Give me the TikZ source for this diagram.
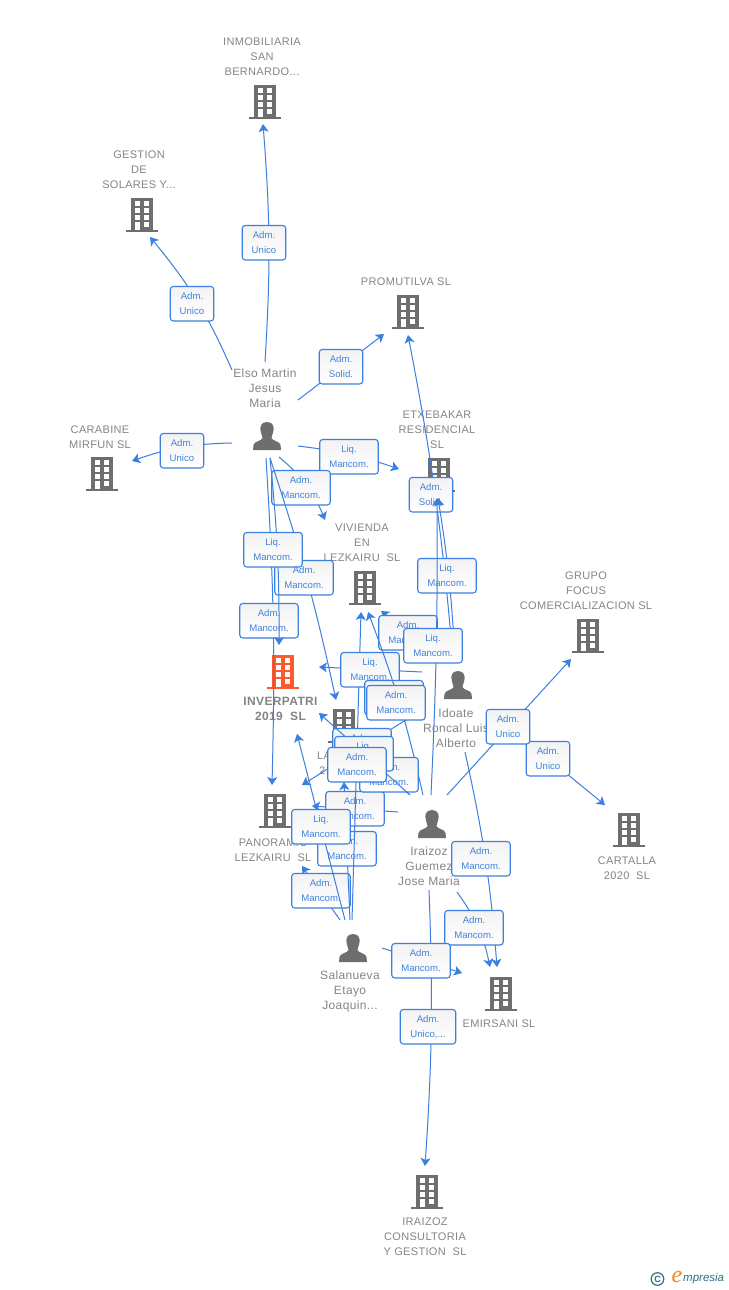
\documentclass[tikz,border=0pt]{standalone}
\usepackage{fontspec}
\setmainfont[LetterSpace=3]{Liberation Sans}
\newfontfamily\lblfont{Liberation Sans}
\newfontfamily\logofont{Liberation Serif}
\usetikzlibrary{arrows.meta}
\definecolor{linkc}{HTML}{3B7FE0}
\definecolor{lbltext}{HTML}{3F83DC}
\definecolor{iconc}{HTML}{6E6E6E}
\definecolor{mainc}{HTML}{FF5A2B}
\definecolor{namec}{HTML}{858585}
\definecolor{logot}{HTML}{2F6F86}
\definecolor{logoo}{HTML}{F08A1D}
\tikzset{
  conn/.style={draw=linkc,line width=1pt,-{Stealth[length=8pt,width=10pt,inset=2pt]}},
  connplain/.style={draw=linkc,line width=1pt},
  lbox/.style={draw=linkc,line width=1.1pt,rounded corners=3pt,top color=black!5,bottom color=white,
    text=lbltext,font=\lblfont\fontsize{9.6}{15}\selectfont,align=center,inner sep=0pt,
    minimum height=34.5pt,yshift=-0.7pt},
  lnarrow/.style={lbox,minimum width=43.5pt},
  lwide/.style={lbox,minimum width=58.5pt},
  lmid/.style={lbox,minimum width=55.5pt},
  ename/.style={text=namec,font=\fontsize{11}{15}\selectfont,align=center,inner sep=0pt,yshift=-0.8pt},
  pname/.style={text=namec,font=\fontsize{12}{15}\selectfont,align=center,inner sep=0pt,yshift=-0.5pt},
  mname/.style={text=namec,font=\bfseries\fontsize{12}{15}\selectfont,align=center,inner sep=0pt,yshift=-0.5pt},
  iconbox/.style={inner sep=0pt,minimum width=30pt,minimum height=34pt},
}
% building icon: name, position, colour
\newcommand{\bld}[3]{%
  \node[iconbox] (#1) at (#2) {};
  \begin{scope}[shift={(#2)}]
    \fill[#3] (-10.7,-17) rectangle (10.7,15);
    \fill[#3] (-16,15) rectangle (16,17);
    \foreach \yy in {-13.7,-7,-0.3}{
      \fill[white] (-7.3,\yy) rectangle (-1.7,\yy+5);
      \fill[white] (1.7,\yy) rectangle (7.3,\yy+5);
    }
    \fill[white] (-7.3,7) rectangle (-1.7,15);
    \fill[white] (1.7,7) rectangle (7.3,11.5);
  \end{scope}}
% person icon: name, position
\newcommand{\psn}[2]{%
  \node[iconbox,minimum height=28pt] (#1) at (#2) {};
  \begin{scope}[shift={(#2)}]
    \fill[iconc] (0,-14) .. controls (-6,-14) and (-7,-9) .. (-6.5,-6)
      .. controls (-6,-2) and (-4.5,0) .. (-4.5,2)
      .. controls (-5,5) and (-13,5) .. (-13.5,9) -- (-14,14) -- (14,14) -- (13.5,9)
      .. controls (13,5) and (5,5) .. (4.5,2)
      .. controls (4.5,0) and (6,-2) .. (6.5,-6)
      .. controls (7,-9) and (6,-14) .. (0,-14) -- cycle;
  \end{scope}}
% connector: id, start, tip, curve options
\newcommand{\lnk}[4]{%
  \coordinate (#1s) at (#2);
  \coordinate (#1t) at (#3);
  \draw[conn] (#1s) to[#4] (#1t);}
\begin{document}
\begin{tikzpicture}[x=1pt,y=-1pt]
\useasboundingbox (0,0) rectangle (728,1290);
\fill[white] (0,0) rectangle (728,1290);

% entity icons
\bld{inmob}{265,102}{iconc}
\bld{gestion}{142,215}{iconc}
\bld{promut}{408,312}{iconc}
\bld{carab}{102,474}{iconc}
\bld{etxe}{439,475}{iconc}
\bld{vivi}{365,588}{iconc}
\bld{inver}{283,672}{mainc}
\bld{lar}{344,726}{iconc}
\bld{panor}{275,811}{iconc}
\bld{grupo}{588,636}{iconc}
\bld{carta}{629,830}{iconc}
\bld{emir}{501,994}{iconc}
\bld{consul}{427,1192}{iconc}
\psn{elso}{267,436}
\psn{idoate}{458,685}
\psn{iraizoz}{432,824}
\psn{salan}{353,948}

% entity names
\node[ename] (ninmob) at (262,56) {INMOBILIARIA\\SAN\\BERNARDO...};
\node[ename] (ngest) at (139,169) {GESTION\\DE\\SOLARES Y...};
\node[ename] (nprom) at (406,281) {PROMUTILVA SL};
\node[pname] (nelso) at (265,388) {Elso Martin\\Jesus\\Maria};
\node[ename] (ncarab) at (100,436) {CARABINE\\MIRFUN SL};
\node[ename] (netxe) at (437,429) {ETXEBAKAR\\RESIDENCIAL\\SL};
\node[ename] (nvivi) at (362,542) {VIVIENDA\\EN\\LEZKAIRU\ \ SL};
\node[ename] (ngrupo) at (586,590) {GRUPO\\FOCUS\\COMERCIALIZACION SL};
\node[mname] (ninver) at (280.5,708) {INVERPATRI\\2019\ \ SL};
\node[pname] (nido) at (456,728) {Idoate\\Roncal Luis\\Alberto};
\node[ename,anchor=west] (nlara) at (317,755) {LA};
\node[ename,anchor=west] (nlarb) at (319,770) {2};
\node[ename] (npano) at (273,849) {PANORAMIC\\LEZKAIRU\ \ SL};
\node[ename] (ncarta) at (627,867) {CARTALLA\\2020\ \ SL};
\node[pname] (nira) at (429,866) {Iraizoz\\Guemez\\Jose Maria};
\node[pname] (nsal) at (350,991) {Salanueva\\Etayo\\Joaquin...};
\node[ename] (nemir) at (499,1023) {EMIRSANI SL};
\node[ename] (ncons) at (425,1236) {IRAIZOZ\\CONSULTORIA\\Y GESTION\ \ SL};

% Elso Martin
\lnk{a}{265,362}{263,124}{bend right=4}
\node[lnarrow] (la) at (264,242) {Adm.\\Unico};
\lnk{b}{232,370}{150,237}{bend right=8}
\node[lnarrow] (lb) at (192,303) {Adm.\\Unico};
\lnk{c}{298,400}{384,334}{}
\node[lnarrow] (lc) at (341,366) {Adm.\\Solid.};
\lnk{d}{232,443}{132,461}{bend right=9}
\node[lnarrow] (ld) at (182,450) {Adm.\\Unico};
\lnk{e}{298,446}{399,469}{bend left=6}
\node[lwide] (le) at (349,456) {Liq.\\Mancom.};
\lnk{f}{279,457}{325,520}{bend left=14}
\node[lwide] (lf) at (301,487) {Adm.\\Mancom.};
\lnk{g}{270,458}{336,700}{bend left=3}
\node[lwide] (lg) at (304,577) {Adm.\\Mancom.};
\lnk{h}{266,458}{272,785}{bend left=2.5}
\node[lwide] (lh) at (269,620) {Adm.\\Mancom.};
\lnk{i}{270,458}{279,645}{bend left=3}
\node[lwide] (li) at (273,549) {Liq.\\Mancom.};

% Salanueva, lower links
\lnk{j}{340,920}{302,866}{}
\node[lwide] (lj) at (321,890) {Adm.\\Mancom.};
\lnk{k}{350,920}{344,782}{}
\node[lwide] (lk) at (347,848) {Adm.\\Mancom.};
% Iraizoz to Panorama
\lnk{l}{398,812}{312,806}{}
\node[lwide] (ll) at (355,808) {Adm.\\Mancom.};
% Salanueva, long links
\lnk{m}{352,920}{361,612}{}
\lnk{n}{345,920}{297,734}{}
% Idoate
\lnk{o}{422,672}{319,667}{}
\node[lwide] (lo) at (370,669) {Liq.\\Mancom.};
\lnk{p}{453,660}{408,335}{bend right=3}
\node[lnarrow] (lp) at (431,494) {Adm.\\Solid.};
\lnk{q}{455,660}{438,498}{bend right=3}
\node[lwide] (lq) at (447,575) {Liq.\\Mancom.};
\lnk{r}{436,652}{381,611}{}
\node[lwide] (lr) at (408,632) {Adm.\\Mancom.};
\lnk{s}{490,711}{605,805}{}
\node[lnarrow] (ls) at (548,758) {Adm.\\Unico};
\lnk{t}{465,752}{497,967}{bend left=4}
\node[lwide] (lt) at (481,858) {Adm.\\Mancom.};
\lnk{u}{425,708}{302,785}{}
\node[lwide] (lu) at (362,745) {Adm.\\Mancom.};
\node[lwide] (lu2) at (394,697) {Adm.\\Mancom.};

% Iraizoz
\lnk{v}{431,795}{437,498}{bend right=1.5}
\node[lwide] (lv) at (433,645) {Liq.\\Mancom.};
\lnk{w}{423,795}{368,612}{bend right=4}
\node[lwide] (lw) at (396,702) {Adm.\\Mancom.};
\lnk{x}{447,795}{571,659}{}
\node[lnarrow] (lx) at (508,726) {Adm.\\Unico};
\lnk{y}{457,892}{490,967}{bend left=12}
\node[lwide] (ly) at (474,927) {Adm.\\Mancom.};
\lnk{z}{429,890}{425,1166}{bend left=3}
\node[lmid] (lz) at (428,1026) {Adm.\\Unico,...};
\draw[connplain] (410,795) -- (368,754);
\node[lwide] (laa) at (389,774) {Adm.\\Mancom.};
\lnk{ab}{410,795}{319,713}{}
\node[lwide] (lab) at (364,753) {Liq.\\Mancom.};

% Salanueva, remaining
\lnk{ac}{382,948}{462,973}{}
\node[lwide] (lac) at (421,960) {Adm.\\Mancom.};
\node[lwide] (lm) at (357,764) {Adm.\\Mancom.};
\node[lwide] (ln) at (321,826) {Liq.\\Mancom.};

% logo
\draw[logot,line width=1.2pt] (657.5,1279) circle (6.3pt);
\node[text=logot,inner sep=0pt,font=\lblfont\bfseries\fontsize{9}{9}\selectfont] (logoc) at (657.5,1279) {C};
\node[text=logoo,inner sep=0pt,font=\logofont\itshape\fontsize{24}{24}\selectfont] (logoe) at (677,1277) {e};
\node[text=logot,inner sep=0pt,anchor=west,font=\lblfont\itshape\fontsize{11.5}{12}\selectfont] (logom) at (683,1279) {mpresia};
\end{tikzpicture}
\end{document}
